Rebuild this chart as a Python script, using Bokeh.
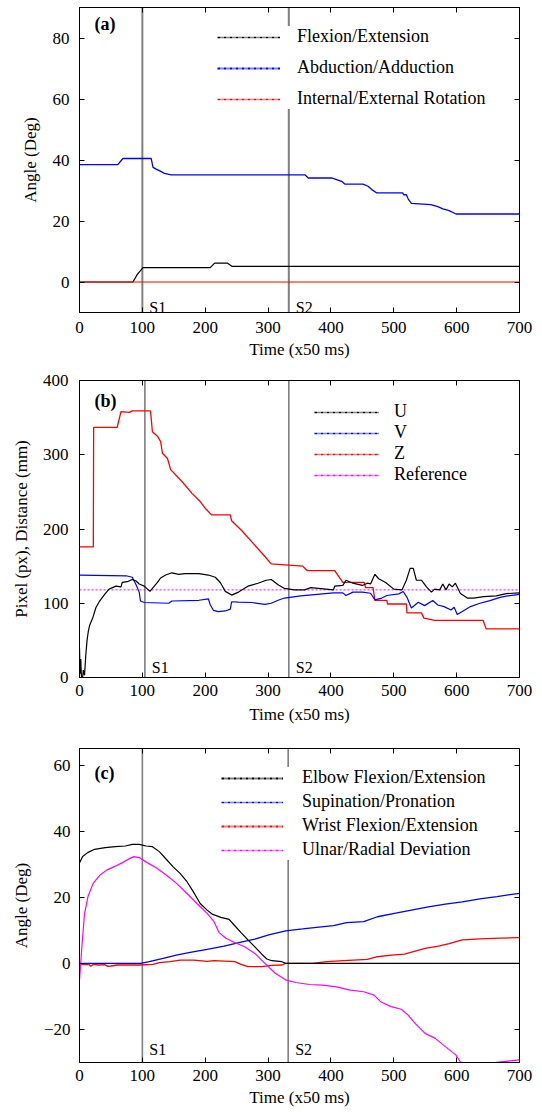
from bokeh.plotting import figure
from bokeh.models import (Span, Label, Legend, LegendItem, LinearAxis, FixedTicker,
                          CustomJSTickFormatter, Range1d)
from bokeh.layouts import column
from bokeh.embed import file_html
from bokeh.resources import INLINE

FONT = "Liberation Serif"
NAN = float("nan")

# ---------------- data ----------------
x_ticks = [0, 100, 200, 300, 400, 500, 600, 700]

# panel (a)
a_events = [100, 333]
a_event_names = ["S1", "S2"]
a_yticks = [0, 20, 40, 60, 80]
a_x_flex = [0, 85, 92, 101, 208, 215, 235, 243, 700]
a_flex = [0, 0, 2.5, 4.7, 4.7, 6.2, 6.2, 5.1, 5.1]
a_x_abd = [0, 61, 69, 114, 117, 122, 127, 135, 146, 359, 364, 401, 409, 417, 422, 451,
           459, 465, 473, 514, 516, 520, 523, 528, 559, 570, 578, 588, 599, 700]
a_abd = [38.5, 38.5, 40.5, 40.5, 37.6, 37.0, 36.5, 35.6, 35.1, 35.1, 34.1, 34.1, 33.6,
         33.0, 32.1, 32.1, 31.4, 30.3, 29.2, 29.2, 28.6, 28.6, 27.2, 25.8, 25.4, 24.7,
         24.0, 23.4, 22.3, 22.3]
a_x_rot = [0, 700]
a_rot = [0, 0]

# panel (b)
b_events = [104, 333]
b_event_names = ["S1", "S2"]
b_yticks = [0, 100, 200, 300, 400]
b_x_u = [0, 1, 2, 3, 5, 6, 8, 10, 12, 14, 16, 21, 26, 32, 40, 47, 58, 66, 68, 76, 84, 90,
         95, 103, 112, 116, 124, 129, 137, 147, 158, 168, 190, 205, 216, 224, 232, 242,
         253, 268, 284, 297, 305, 316, 326, 342, 358, 368, 404, 406, 419, 424, 435, 450,
         458, 463, 470, 476, 487, 500, 513, 520, 526, 531, 536, 544, 552, 560, 565, 573,
         578, 583, 588, 593, 598, 606, 617, 627, 643, 663, 679, 700]
b_u = [40, 5, 25, 2, 0, 10, 3, 30, 50, 62, 70, 80, 94, 103, 112, 119, 123, 122, 128, 129,
       132, 130, 126, 123, 116, 120, 128, 134, 138, 141, 139, 140, 140, 138, 135, 128, 116,
       111, 115, 123, 127, 131, 132, 125, 120, 118, 118, 121, 118, 123, 124, 131, 127, 124,
       127, 126, 139, 133, 128, 119, 118, 131, 147, 147, 131, 131, 122, 115, 119, 118, 126,
       118, 126, 122, 127, 113, 107, 107, 109, 110, 113, 114]
b_x_v = [0, 74, 84, 90, 95, 97, 103, 142, 147, 190, 205, 208, 213, 221, 232, 240, 242,
         253, 274, 295, 305, 316, 326, 352, 404, 419, 424, 435, 450, 463, 470, 481, 489,
         508, 515, 521, 528, 539, 549, 562, 570, 580, 591, 596, 601, 611, 622, 637, 653,
         669, 679, 700]
b_v = [138, 137, 135, 125, 115, 103, 101, 100, 103, 104, 106, 98, 90.5, 88.7, 89.6, 92,
       102, 101.5, 101, 98.5, 100, 104, 107, 110, 114, 114, 110.4, 115, 115, 113.5, 104.5,
       107, 110.4, 112.6, 115.8, 108, 93.7, 101.4, 96.8, 103.6, 97.7, 95.5, 91, 94.6,
       84.7, 90, 95.5, 100, 103.6, 108, 109.5, 112]
b_x_z = [0, 22, 22.5, 60, 66, 79, 84, 113, 116, 124, 129, 132, 140, 145, 163, 179, 192,
         200, 210, 240, 242, 258, 276, 295, 305, 355, 362, 406, 419, 453, 455, 467, 470,
         489, 490, 520, 521, 544, 548, 565, 642, 647, 700]
b_z = [176, 176, 337, 337, 358, 357, 359, 359, 331, 325, 318, 302, 295, 280, 264, 248,
       237, 228, 219, 219, 211, 198, 181, 163, 153, 150, 144, 144, 128, 128, 121, 121,
       104, 104, 99, 99, 87, 87, 80, 77, 77, 65.5, 65.5]
b_x_ref = [0, 700]
b_ref = [118, 118]

# panel (c)
c_events = [100, 332]
c_event_names = ["S1", "S2"]
c_yticks = [-20, 0, 20, 40, 60]
c_x_elb = [0, 5, 13, 24, 41, 57, 73, 84, 95, 106, 116, 127, 138, 149, 160, 171, 181, 192,
           203, 211, 225, 238, 246, 257, 268, 279, 290, 298, 306, 322, 328, 700]
c_elb = [30.4, 32.3, 33.5, 34.5, 35.0, 35.3, 35.5, 36.0, 36.0, 35.5, 35.3, 33.8, 31.5,
         29.2, 27.2, 24.7, 21.7, 18.1, 16.1, 14.9, 13.9, 13.3, 11.6, 9.3, 7.1, 5.0, 2.8,
         1.3, 0.8, 0.5, 0, 0]
c_x_sup = [0, 97, 111, 133, 154, 176, 203, 230, 257, 279, 301, 328, 355, 377, 404, 425,
           452, 474, 501, 528, 555, 582, 609, 637, 664, 700]
c_sup = [0, 0, 0.5, 1.5, 2.5, 3.3, 4.2, 5.2, 6.4, 7.3, 8.6, 9.8, 10.4, 10.9, 11.4, 12.3,
         12.6, 14.1, 15.1, 16.1, 17.1, 17.9, 18.6, 19.5, 20.2, 21.2]
c_x_wri = [0, 8, 15, 18, 22, 30, 40, 45, 50, 60, 95, 117, 127, 144, 160, 182, 203, 214,
           247, 257, 268, 290, 306, 322, 328, 371, 393, 420, 458, 474, 496, 517, 534, 550,
           571, 588, 609, 637, 669, 700]
c_wri = [-0.2, -0.4, -0.3, -0.9, -0.3, -0.5, -0.4, -0.9, -0.8, -0.5, -0.5, -0.3, 0.2, 0.5,
         1.0, 1.0, 0.6, 0.8, 0.5, -0.3, -1.0, -1.0, -0.6, -0.5, 0, 0, 0.5, 0.8, 1.2, 2.0,
         2.5, 2.8, 3.7, 4.5, 5.2, 6.0, 7.1, 7.4, 7.6, 7.8]
c_x_uln = [0, 1.6, 3.8, 8, 13.5, 21.7, 32.5, 43.3, 57, 67.7, 78.5, 86.7, 94.8, 105.6,
           121.9, 138, 154.4, 170.6, 186.9, 203, 214, 222, 233, 246.5, 262.7, 279, 295,
           311.5, 327.7, 344, 365.6, 387, 409, 430.7, 452, 468.6, 479, 495.7, 512, 522.5,
           533.6, 549.8, 566, 582, 598.6, 606.7, 620, 640, 655, 670, 700]
c_uln = [-5, -1, 5, 15, 20.2, 24.2, 26.7, 28.2, 29.4, 30.4, 31.6, 32.3, 32, 30.7, 28.9,
         26.7, 24.2, 21.2, 18.1, 15.1, 12.6, 9.3, 7.6, 6.3, 5, 3, 0, -3, -5, -5.8, -6.4,
         -6.6, -7.1, -8.1, -8.6, -9.6, -11.6, -13.1, -13.9, -15.6, -18.1, -21.2, -22.7,
         -25.2, -27.7, -30, -31.5, -31.5, -30.2, -29.8, -29.2]

TICK_SIZE = "17px"
ALABEL_SIZE = "17px"
LEG_SIZE = "18px"

EMPTY = CustomJSTickFormatter(code="return '';")
MINUS = CustomJSTickFormatter(code="return String(tick).replace('-', '\\u2212');")


def style_axis(ax, tick_standoff, label_standoff):
    ax.major_tick_in = 5
    ax.major_tick_out = 0
    ax.minor_tick_line_color = None
    ax.axis_line_color = "black"
    ax.major_tick_line_color = "black"
    ax.major_label_text_font = FONT
    ax.major_label_text_font_size = TICK_SIZE
    ax.major_label_text_color = "black"
    ax.major_label_standoff = tick_standoff
    ax.axis_label_text_font = FONT
    ax.axis_label_text_font_size = ALABEL_SIZE
    ax.axis_label_text_font_style = "normal"
    ax.axis_label_text_color = "black"
    ax.axis_label_standoff = label_standoff


def make_fig(height, yr, yticks, ylabel, borders, stand):
    bl, br, bt, bb = borders
    p = figure(width=542, height=height, x_range=Range1d(0, 700), y_range=Range1d(*yr),
               output_backend="svg", toolbar_location=None,
               min_border_left=bl, min_border_right=br, min_border_top=bt,
               min_border_bottom=bb)
    p.grid.visible = False
    p.outline_line_color = "black"
    p.background_fill_color = "white"
    p.border_fill_color = "white"
    p.xaxis.ticker = FixedTicker(ticks=x_ticks)
    p.yaxis.ticker = FixedTicker(ticks=yticks)
    p.xaxis.axis_label = "Time (x50 ms)"
    p.yaxis.axis_label = ylabel
    style_axis(p.xaxis[0], stand[0], stand[1])
    style_axis(p.yaxis[0], stand[2], stand[3])
    p.yaxis[0].formatter = MINUS
    for loc, tk in (("right", yticks), ("above", x_ticks)):
        ax = LinearAxis(ticker=FixedTicker(ticks=tk), formatter=EMPTY)
        style_axis(ax, 0, 0)
        ax.major_label_text_font_size = "0px"
        p.add_layout(ax, loc)
    return p


def add_events(p, events, names, yr, y_off, lw):
    for e, n in zip(events, names):
        p.add_layout(Span(location=e, dimension="height", line_color="#7f7f7f",
                          line_width=lw, level="underlay"))
        p.add_layout(Label(x=e, y=yr[0], text=n, x_offset=7, y_offset=y_off,
                           text_baseline="alphabetic", text_font=FONT,
                           text_font_size="16px", text_color="black"))


def add_panel_label(p, txt, yr, dy):
    p.add_layout(Label(x=0, y=yr[1], text=txt, x_offset=15, y_offset=-dy,
                       text_baseline="middle", text_font=FONT, text_font_size="18px",
                       text_font_style="bold", text_color="black"))


def add_legend(p, entries, loc, gw, standoff, spacing):
    items = []
    for label, color, lw in entries:
        r = p.line(x=[NAN], y=[NAN], line_color=color, line_width=lw, line_dash="3 1 1 1")
        items.append(LegendItem(label=label, renderers=[r]))
    lg = Legend(items=items, location=loc, glyph_width=gw, glyph_height=20,
                label_standoff=standoff, spacing=spacing, padding=2, margin=0,
                label_height=20, border_line_color=None,
                background_fill_color="white", background_fill_alpha=1.0,
                label_text_font=FONT, label_text_font_size=LEG_SIZE,
                label_text_color="black")
    p.add_layout(lg)


# ---------------- panel (a) ----------------
a_yr = (-10, 90)
pa = make_fig(369, a_yr, a_yticks, "Angle (Deg)", (79, 23, 7, 57), (9, 4, 10, 10))
add_events(pa, a_events, a_event_names, a_yr, 5, 2)
pa.line(a_x_abd, a_abd, line_color="blue", line_width=1.3)
pa.line(a_x_flex, a_flex, line_color="black", line_width=1.2)
pa.line(a_x_rot, a_rot, line_color="red", line_width=1.2)
add_legend(pa, [("Flexion/Extension", "black", 1.3), ("Abduction/Adduction", "blue", 2),
                ("Internal/External Rotation", "red", 1.3)], (138, 203), 63, 17, 10)
add_panel_label(pa, "(a)", a_yr, 16)

# ---------------- panel (b) ----------------
b_yr = (0, 400)
pb = make_fig(369, b_yr, b_yticks, "Pixel (px), Distance (mm)", (76, 20, 11, 61), (7, 6, 11, 9))
add_events(pb, b_events, b_event_names, b_yr, 10, 1.6)
pb.line(b_x_ref, b_ref, line_color="magenta", line_width=1, line_dash="2 2")
pb.line(b_x_z, b_z, line_color="red", line_width=1.3)
pb.line(b_x_v, b_v, line_color="blue", line_width=1.2)
pb.line(b_x_u, b_u, line_color="black", line_width=1.2)
add_legend(pb, [("U", "black", 1.3), ("V", "blue", 1.3), ("Z", "red", 1.3),
                ("Reference", "magenta", 1.3)], (235, 192), 65, 15, 0)
add_panel_label(pb, "(b)", b_yr, 20)

# ---------------- panel (c) ----------------
c_yr = (-30, 65)
pc = make_fig(374, c_yr, c_yticks, "Angle (Deg)", (77, 19, 10, 50), (7, 4, 9, 10))
add_events(pc, c_events, c_event_names, c_yr, 13, 1.6)
pc.line(c_x_sup, c_sup, line_color="blue", line_width=1.3)
pc.line(c_x_wri, c_wri, line_color="red", line_width=1.3)
pc.line(c_x_elb, c_elb, line_color="black", line_width=1.2)
pc.line(c_x_uln, c_uln, line_color="magenta", line_width=1.2)
add_legend(pc, [("Elbow Flexion/Extension", "black", 2), ("Supination/Pronation", "blue", 1.3),
                ("Wrist Flexion/Extension", "red", 2), ("Ulnar/Radial Deviation", "magenta", 1.3)],
           (142, 202), 62, 19, 3)
add_panel_label(pc, "(c)", c_yr, 24)

layout = column(pa, pb, pc)
open("out.html", "w").write(file_html(layout, INLINE))
